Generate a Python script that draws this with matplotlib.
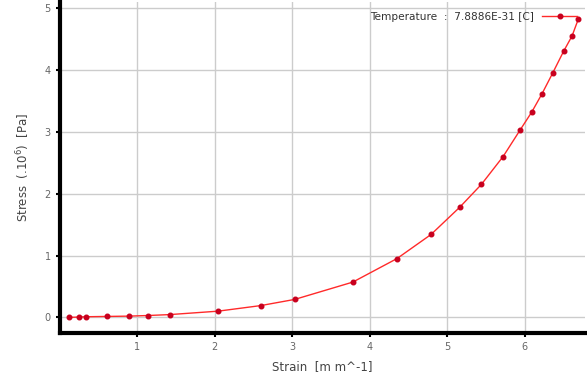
import numpy as np
import matplotlib
matplotlib.use('Agg')
import matplotlib.pyplot as plt

# strain [m m^-1]
strain = [0.12, 0.25, 0.34, 0.61, 0.89, 1.14, 1.42, 2.04, 2.59, 3.03, 3.78,
          4.35, 4.79, 5.16, 5.44, 5.72, 5.94, 6.09, 6.22, 6.36, 6.50, 6.61, 6.69]
# stress (.10^6) [Pa]
stress = [0.0, 0.005, 0.01, 0.015, 0.02, 0.03, 0.045, 0.10, 0.19, 0.29, 0.57,
          0.95, 1.34, 1.78, 2.15, 2.60, 3.03, 3.32, 3.61, 3.95, 4.30, 4.55, 4.82]
label = 'Temperature  :  7.8886E-31 [C]'

fig = plt.figure(figsize=(5.87, 3.83), dpi=100)
ax = fig.add_axes([0.102, 0.131, 0.895, 0.864])

ax.plot(strain, stress, color='#ff2a2a', lw=1.0, marker='o', ms=3.3,
        mfc='#c8001e', mec='#c8001e', label=label)

ax.set_xlim(0, 6.78)
ax.set_ylim(-0.25, 5.1)
ax.set_xticks([1, 2, 3, 4, 5, 6])
ax.set_yticks([0, 1, 2, 3, 4, 5])
ax.grid(color='#cccccc', lw=1)
ax.set_axisbelow(True)

for s in ['top', 'right']:
    ax.spines[s].set_visible(False)
for s in ['left', 'bottom']:
    ax.spines[s].set_linewidth(3)
    ax.spines[s].set_color('black')

ax.tick_params(labelsize=7, colors='#666666', length=3, width=1.5)
ax.tick_params(axis='both', color='black')

ax.set_xlabel('Strain  [m m^-1]', fontsize=8.5, color='#444444', labelpad=6)
ax.set_ylabel('Stress  (.10$^6$)  [Pa]', fontsize=8.5, color='#444444', labelpad=9)

leg = ax.legend(loc='center right', bbox_to_anchor=(577 / 587, 1 - 17 / 383),
                bbox_transform=fig.transFigure, fontsize=7.6, frameon=False,
                markerfirst=False, handlelength=3.3, borderaxespad=0,
                borderpad=0, handletextpad=0.8)
for t in leg.get_texts():
    t.set_color('#333333')

fig.savefig('out.png', dpi=100)
